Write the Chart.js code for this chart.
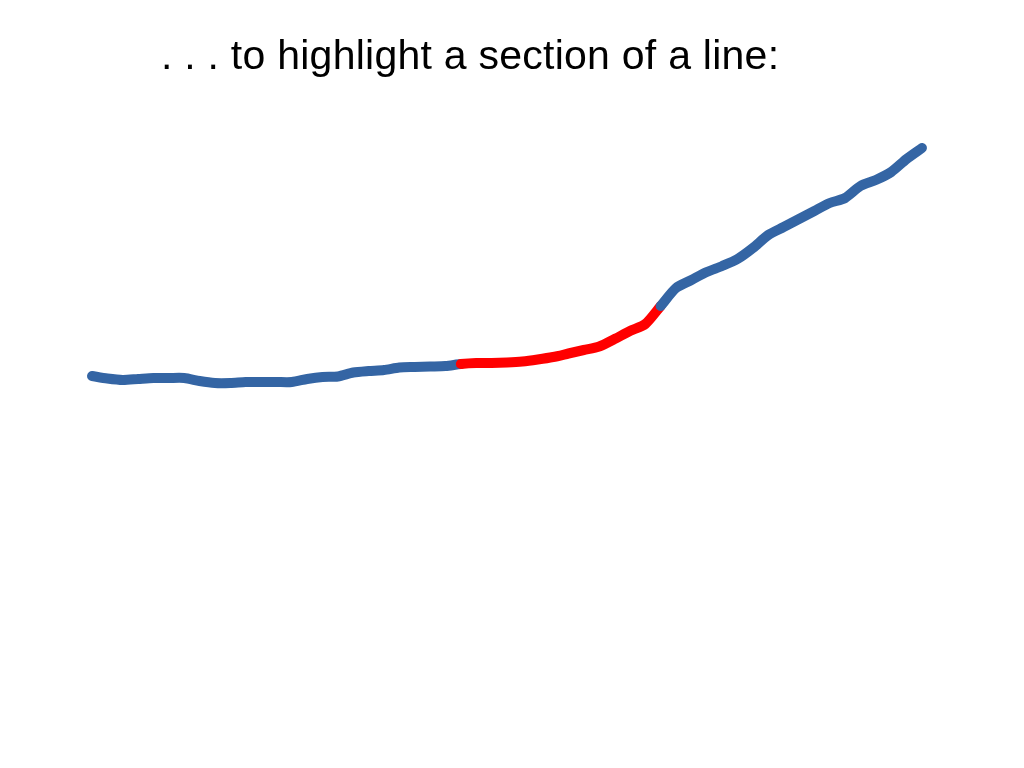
<!DOCTYPE html>
<html>
<head>
<meta charset="utf-8">
<script src="https://cdn.jsdelivr.net/npm/chart.js@4"></script>
<style>
  html, body { margin: 0; padding: 0; background: #fff; }
  #wrap { position: relative; width: 1024px; height: 768px; }
  #title {
    position: absolute; left: 161px; top: 35px;
    font-family: "Liberation Sans", Arial, sans-serif;
    font-size: 41px; line-height: 41px; letter-spacing: 0.25px;
    color: #000; white-space: nowrap;
  }
</style>
</head>
<body>
<div id="wrap">
  <canvas id="chart" width="1024" height="768"></canvas>
  <div id="title">. . . to highlight a section of a line:</div>
</div>
<script>
// series (arbitrary units)
const xIndex = [];
for (let i = 0; i <= 54; i++) xIndex.push(i);
const values = [
  392, 389.5, 388, 389, 390, 390, 390, 387, 385, 385,
  386, 386, 386, 386, 389, 391, 391.5, 395.5, 397, 398,
  400.5, 401, 401.5, 402, 404, 405, 405, 405.5, 406.5, 408.5,
  411, 414.5, 418, 421.5, 429, 437, 444, 462, 480, 488,
  496, 502, 509, 520, 533, 541, 549, 557, 565, 570,
  582, 588, 596, 609, 620
];
// highlighted section (from point to point)
const hiStart = 24;
const hiEnd = 37;

const BLUE = "#3465a4";
const RED = "#ff0000";

const ctx = document.getElementById("chart").getContext("2d");
new Chart(ctx, {
  type: "line",
  data: {
    datasets: [{
      data: xIndex.map((x, i) => ({ x: x, y: values[i] })),
      borderColor: BLUE,
      borderWidth: 10,
      borderCapStyle: "round",
      borderJoinStyle: "round",
      pointRadius: 0,
      tension: 0.25,
      segment: {
        borderColor: (c) =>
          c.p0DataIndex >= hiStart && c.p0DataIndex < hiEnd ? RED : BLUE,
      },
    }],
  },
  options: {
    responsive: false,
    animation: false,
    layout: { padding: 0 },
    plugins: { legend: { display: false }, tooltip: { enabled: false } },
    scales: {
      x: { type: "linear", display: false, min: -5.986, max: 60.64 },
      y: { display: false, min: 0, max: 768 },
    },
  },
});
</script>
</body>
</html>
